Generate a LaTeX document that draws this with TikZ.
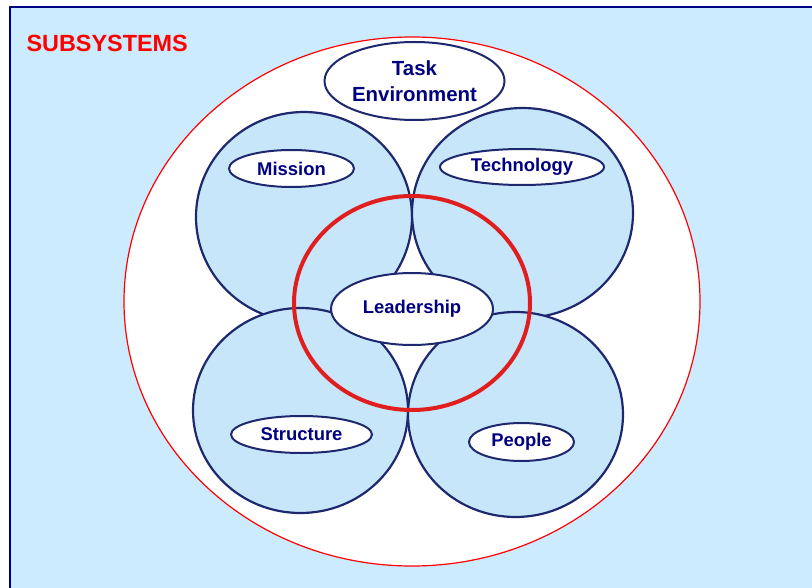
\documentclass[tikz,border=0pt]{standalone}
\usepackage{fontspec}
\setmainfont{Liberation Sans}
\usetikzlibrary{shapes.geometric}

\definecolor{skyback}{RGB}{204,235,255}
\definecolor{bubblefill}{RGB}{200,230,250}
\definecolor{rimnavy}{RGB}{30,40,110}
\definecolor{labelnavy}{RGB}{0,0,128}
\definecolor{leadred}{RGB}{225,30,30}

\tikzset{
  bubble/.style={draw=rimnavy, line width=2.2bp, fill=bubblefill},
  tag/.style={ellipse, draw=rimnavy, line width=2bp, fill=white, inner sep=0pt,
    text=labelnavy, font=\fontsize{18.5}{20}\selectfont\bfseries},
}

\begin{document}
\begin{tikzpicture}[x=1bp,y=-1bp]
\useasboundingbox (0,0) rectangle (812,588);

% panel
\fill[skyback] (10,7) rectangle (812,588);
\draw[labelnavy, line width=2bp] (10,588) -- (10,7) -- (812,7);
\node[anchor=base west, text=red, font=\fontsize{23.5}{26}\selectfont\bfseries] (title) at (23,52) {SUBSYSTEMS};

% system boundary
\draw[red, line width=1.2bp, fill=white] (412,301.5) ellipse [x radius=288, y radius=264.5];

% the four subsystems
\draw[bubble] (304,217) ellipse [x radius=108, y radius=105];
\draw[bubble] (522.5,213) ellipse [x radius=110.5, y radius=105];
\draw[bubble] (300.5,410.5) ellipse [x radius=107.5, y radius=102.5];
\draw[bubble] (515.5,414.5) ellipse [x radius=107.5, y radius=102.5];

% leadership ring
\draw[leadred, line width=4bp] (412,303) ellipse [x radius=118, y radius=107];

\node[tag, minimum width=180bp, minimum height=78bp, align=center,
  font=\fontsize{20.5}{26}\selectfont\bfseries] (task) at (414.5,81) {Task\\Environment};
\node[tag, minimum width=125bp, minimum height=37bp] (mission) at (291.5,168.5) {Mission};
\node[tag, minimum width=164bp, minimum height=36bp] (technology) at (522,167) {Technology};
\node[tag, minimum width=162bp, minimum height=72bp] (leadership) at (412,309) {Leadership};
\node[tag, minimum width=141bp, minimum height=37bp] (structure) at (301.5,434.5) {Structure};
\node[tag, minimum width=105bp, minimum height=38bp] (people) at (521.5,442) {People};

\end{tikzpicture}
\end{document}
